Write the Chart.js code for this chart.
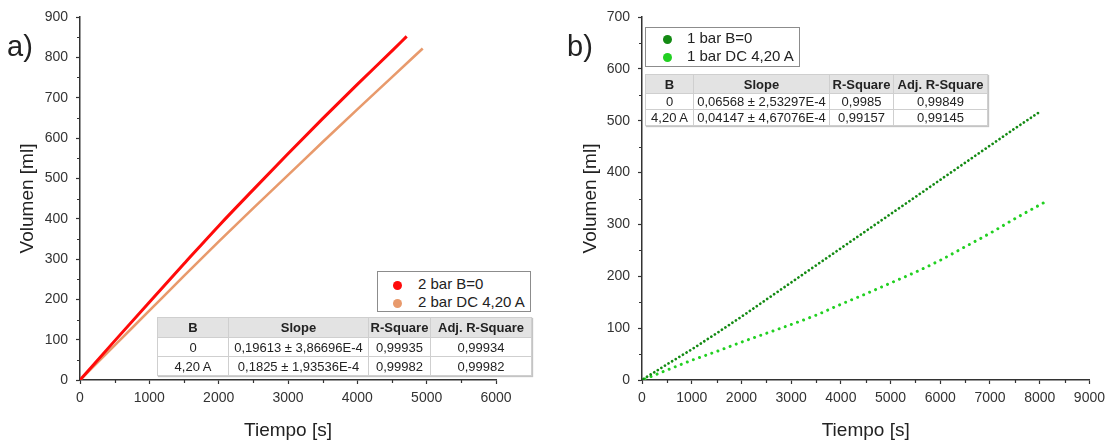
<!DOCTYPE html>
<html>
<head>
<meta charset="utf-8">
<script src="https://cdn.jsdelivr.net/npm/chart.js@4.4.1/dist/chart.umd.min.js"></script>
<style>
  body { margin: 0; background: #fff; font-family: "Liberation Sans", Arial, sans-serif; }
  #wrap { position: relative; width: 1111px; height: 442px; overflow: hidden; }
  .panel { position: absolute; top: 0; height: 442px; }
  .tag { position: absolute; font-size: 29px; color: #222; line-height: 1; }
  .legend { position: absolute; border: 1px solid #8c8c8c; background: #fff; box-sizing: border-box; font-size: 15px; color: #222; }
  .legend div { position: absolute; left: 0; white-space: nowrap; line-height: 18px; }
  .legend span { display: inline-block; width: 9px; height: 9px; border-radius: 50%; vertical-align: -1px; }
  .fit { position: absolute; border-collapse: collapse; table-layout: fixed; font-size: 13px; color: #222;
         background: #fff; border: 1px solid #9a9a9a; box-shadow: 1px 1px 1px #c4c4c4; }
  .fit th, .fit td { border: 1px solid #cfcfcf; text-align: center; padding: 0; white-space: nowrap; }
  .fit th { background: #e3e3e3; font-weight: bold; }
</style>
</head>
<body>
<div id="wrap">
  <div class="panel" style="left:0;width:556px"><canvas id="chartA" width="556" height="442"></canvas></div>
  <div class="panel" style="left:556px;width:555px"><canvas id="chartB" width="555" height="442"></canvas></div>
  <div class="tag" style="left:7px;top:32px">a)</div>
  <div class="tag" style="left:567px;top:32px">b)</div>
  <div id="legendA" class="legend" style="left:377px;top:271px;width:154px;height:41px"></div>
  <div id="legendB" class="legend" style="left:645px;top:27px;width:155px;height:40px"></div>
  <table id="tableA" class="fit" style="left:157px;top:317px"></table>
  <table id="tableB" class="fit" style="left:645px;top:74px"></table>
</div>
<script>
// panel a) : 2 bar
const timeRed = [0, 500, 1000, 1500, 2000, 2500, 3000, 3500, 4000, 4500, 4712];
const volRed = [0, 97, 193, 288, 382, 472, 561, 648, 733, 816, 852];
const timeOrange = [0, 500, 1000, 1500, 2000, 2500, 3000, 3500, 4000, 4500, 4943];
const volOrange = [0, 86, 172, 258, 343, 426, 508, 590, 671, 751, 822];

// panel b) : 1 bar
const timeDark = [30, 500, 1000, 1500, 2000, 2500, 3000, 3500, 4000, 4500, 5000, 5500, 6000, 6500, 7000, 7500, 8000];
const volDark = [2, 30, 59, 90, 122, 155, 188, 221, 254, 287, 320, 353, 386, 419, 452, 485, 517];
const timeLight = [60, 500, 1000, 1500, 2000, 2500, 3000, 3500, 4000, 4500, 5000, 5500, 6000, 6500, 7000, 7500, 8120];
const volLight = [2, 19, 38, 55, 73, 90, 107, 125, 146, 166, 187, 208, 231, 257, 283, 311, 344];

const timeTicksA = [0, 1000, 2000, 3000, 4000, 5000, 6000];
const volTicksA = [0, 100, 200, 300, 400, 500, 600, 700, 800, 900];
const timeTicksB = [0, 1000, 2000, 3000, 4000, 5000, 6000, 7000, 8000, 9000];
const volTicksB = [0, 100, 200, 300, 400, 500, 600, 700];

const labelsA = ['2 bar B=0', '2 bar DC 4,20 A'];
const labelsB = ['1 bar B=0', '1 bar DC 4,20 A'];
const colorsA = ['#ff0a0a', '#e89a6c'];
const colorsB = ['#138a13', '#22d022'];

const fitHeader = ['B', 'Slope', 'R-Square', 'Adj. R-Square'];
const fitRowsA = [
    ['0', '0,19613 ± 3,86696E-4', '0,99935', '0,99934'],
    ['4,20 A', '0,1825 ± 1,93536E-4', '0,99982', '0,99982']
];
const fitRowsB = [
    ['0', '0,06568 ± 2,53297E-4', '0,9985', '0,99849'],
    ['4,20 A', '0,04147 ± 4,67076E-4', '0,99157', '0,99145']
];

const FONT = '"Liberation Sans", Arial, sans-serif';
const AXIS = '#333';

function pairs(xs, ys) {
    return xs.map((x, i) => ({ x: x, y: ys[i] }));
}

// short ticks half way between the labelled ones
const minorTicks = {
    id: 'minorTicks',
    afterDraw(chart) {
        const ctx = chart.ctx;
        const sx = chart.scales.x, sy = chart.scales.y;
        ctx.save();
        ctx.strokeStyle = AXIS;
        ctx.lineWidth = 1.2;
        ctx.beginPath();
        for (let i = 0; i < sx.ticks.length - 1; i++) {
            const px = Math.round(sx.getPixelForValue((sx.ticks[i].value + sx.ticks[i + 1].value) / 2)) + 0.5;
            ctx.moveTo(px, sy.bottom);
            ctx.lineTo(px, sy.bottom + 3);
        }
        for (let i = 0; i < sy.ticks.length - 1; i++) {
            const py = Math.round(sy.getPixelForValue((sy.ticks[i].value + sy.ticks[i + 1].value) / 2)) + 0.5;
            ctx.moveTo(sx.left, py);
            ctx.lineTo(sx.left - 3, py);
        }
        ctx.stroke();
        ctx.restore();
    }
};

function axis(ticks, title, opts) {
    return {
        type: 'linear',
        min: ticks[0],
        max: ticks[ticks.length - 1],
        afterBuildTicks: s => { s.ticks = ticks.map(v => ({ value: v })); },
        afterFit: opts.fit,
        grid: { drawOnChartArea: false, drawTicks: true, tickLength: 4, tickWidth: 1.2, tickColor: AXIS },
        border: { display: true, color: AXIS, width: 1.5 },
        ticks: {
            autoSkip: false, maxRotation: 0, padding: opts.pad, color: '#333',
            font: { family: FONT, size: 14 },
            callback: v => String(v)
        },
        title: { display: true, text: title, color: '#222', padding: opts.titlePad, font: { family: FONT, size: 19 } }
    };
}

function makeChart(id, datasets, xTicks, yTicks, pad) {
    new Chart(document.getElementById(id), {
        type: 'scatter',
        data: { datasets: datasets },
        options: {
            responsive: false,
            animation: false,
            layout: { padding: pad.layout },
            plugins: { legend: { display: false }, tooltip: { enabled: false } },
            scales: {
                x: axis(xTicks, 'Tiempo [s]', { fit: s => { s.height = 62; }, pad: 6, titlePad: { bottom: 0 } }),
                y: axis(yTicks, 'Volumen [ml]', { fit: s => { s.width = pad.yWidth; }, pad: 8, titlePad: { top: pad.yTitle } })
            }
        },
        plugins: [minorTicks]
    });
}

makeChart('chartA', [
    { label: labelsA[0], data: pairs(timeRed, volRed), showLine: true, borderColor: colorsA[0], borderWidth: 3,
      cubicInterpolationMode: 'monotone', pointRadius: 0 },
    { label: labelsA[1], data: pairs(timeOrange, volOrange), showLine: true, borderColor: colorsA[1], borderWidth: 2.6,
      cubicInterpolationMode: 'monotone', pointRadius: 0 }
], timeTicksA, volTicksA, { layout: { left: 0, right: 60, top: 17, bottom: 0 }, yWidth: 80, yTitle: 16 });

makeChart('chartB', [
    { label: labelsB[0], data: pairs(timeDark, volDark), showLine: true, borderColor: colorsB[0], borderWidth: 2.7,
      borderDash: [0.01, 4.2], borderCapStyle: 'round', pointRadius: 0 },
    { label: labelsB[1], data: pairs(timeLight, volLight), showLine: true, borderColor: colorsB[1], borderWidth: 3,
      borderDash: [0.01, 6.5], borderCapStyle: 'round', cubicInterpolationMode: 'monotone', pointRadius: 0 }
], timeTicksB, volTicksB, { layout: { left: 0, right: 18, top: 17, bottom: 0 }, yWidth: 86, yTitle: 23 });

function fillLegend(id, labels, colors, dotX, textX, rows) {
    document.getElementById(id).innerHTML = labels.map((l, i) =>
        `<div style="top:${rows[i] - 9}px;left:${dotX}px"><span style="background:${colors[i]}"></span>` +
        `<span style="width:${textX - dotX - 9}px;background:none"></span>${l}</div>`).join('');
}
fillLegend('legendA', labelsA, colorsA, 15, 40, [12, 30]);
fillLegend('legendB', labelsB, colorsB, 17, 41, [10, 28]);

function fillTable(id, widths, headH, rowH, rows) {
    const cols = widths.map(w => `<col style="width:${w}px">`).join('');
    const head = `<tr style="height:${headH}px">` + fitHeader.map(h => `<th>${h}</th>`).join('') + '</tr>';
    const body = rows.map(r => `<tr style="height:${rowH}px">` + r.map(c => `<td>${c}</td>`).join('') + '</tr>').join('');
    document.getElementById(id).innerHTML = `<colgroup>${cols}</colgroup>${head}${body}`;
}
fillTable('tableA', [71, 140, 62, 101], 20, 19, fitRowsA);
fillTable('tableB', [48, 136, 64, 94], 19, 16, fitRowsB);
</script>
</body>
</html>
